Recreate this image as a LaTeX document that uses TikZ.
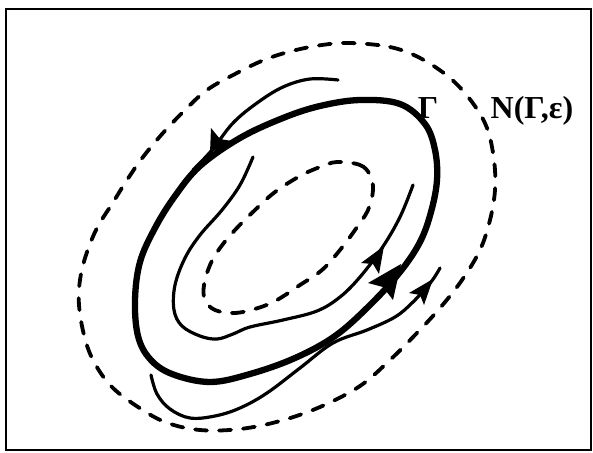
\documentclass[tikz,border=0pt]{standalone}
\usepackage{fontspec}
\newfontfamily\labfont{Liberation Serif}
\begin{document}
\begin{tikzpicture}[x=1pt,y=-1pt,
  frame/.style={line width=2.2pt},
  gammaline/.style={line width=6.3pt},
  traj/.style={line width=3.2pt, line cap=round},
  nbhd/.style={line width=3.8pt, line cap=round, dash pattern=on 12pt off 12pt},
  headfill/.style={fill=black},
  lab/.style={font=\labfont\bfseries\fontsize{32}{36}\selectfont, inner sep=0pt}]
\useasboundingbox (0,0) rectangle (593,452);
\draw[frame] (6,9) rectangle (591,450);

% outer neighbourhood N(Gamma, epsilon)
\draw[nbhd] plot[smooth cycle, tension=0.6] coordinates {
 (350,43) (390,47) (420,58) (450,78) (472,102) (487,128) (494,160) (495,190)
 (490,220) (480,250) (462,280) (440,308) (415,335) (390,360) (360,386) (320,407)
 (280,421) (240,429) (200,430) (165,422) (135,405) (110,385) (93,360) (84,335)
 (79,305) (80,280) (86,255) (97,228) (112,204) (127,180) (143,157) (163,133)
 (185,110) (207,90) (235,74) (264,60) (292,51) (322,45)};

% inner dashed curve
\draw[nbhd] plot[smooth cycle, tension=0.6] coordinates {
 (337,162) (360,165) (370,175) (373,190) (368,210) (355,230) (340,250) (322,270)
 (300,285) (277,300) (258,308) (235,313) (215,310) (205,300) (204,285) (210,265)
 (220,248) (235,230) (255,210) (275,192) (300,176) (320,167)};

% limit cycle Gamma
\draw[gammaline] plot[smooth cycle, tension=0.6] coordinates {
 (135,300) (140,262) (155,228) (175,196) (200,166) (240,138) (283,118) (320,106)
 (360,100) (400,104) (425,124) (435,150) (437,180) (431,212) (420,242) (400,272)
 (370,305) (335,336) (295,358) (250,374) (210,382) (172,374) (150,359) (138,336)};
\fill[headfill] (401,264) -- (368,283) -- (383,287) -- (393,300) -- cycle;

% upper outer trajectory
\draw[traj] plot[smooth, tension=0.6] coordinates {
 (338,80) (310,79) (283,87) (257,103) (233,123) (212,150) (193,170)};
\fill[headfill] (210,153) -- (211,128) -- (220,139) -- (232,141) -- cycle;

% lower outer trajectory
\draw[traj] plot[smooth, tension=0.6] coordinates {
 (151,375) (157,394) (170,409) (190,418) (215,416) (240,408) (267,393) (300,368)
 (333,343) (367,330) (395,317) (413,302) (431,282) (440,268)};
\fill[headfill] (433,279) -- (424,305) -- (420,295) -- (409,293) -- cycle;

% inner trajectory
\draw[traj] plot[smooth, tension=0.6] coordinates {
 (253,157) (240,185) (222,210) (200,235) (185,258) (175,285) (174,310) (182,326)
 (200,336) (217,339) (233,334) (250,327) (283,320) (317,311) (340,297) (360,277)
 (382,248) (400,217) (413,185)};
\fill[headfill] (384,246) -- (379,274) -- (373,264) -- (361,263) -- cycle;

% labels
\node[lab] (gammalabel) at (428,108) {Γ};
\node[lab] (nlabel) at (532,111) {N(Γ,ε)};
\end{tikzpicture}
\end{document}
